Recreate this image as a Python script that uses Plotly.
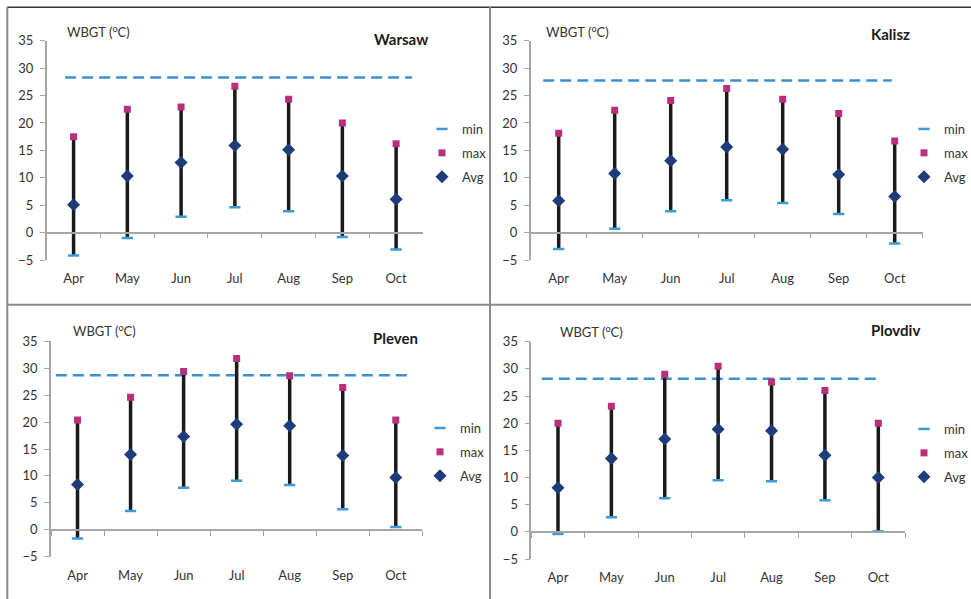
import plotly.graph_objects as go

months = ["Apr", "May", "Jun", "Jul", "Aug", "Sep", "Oct"]
cities = ["Warsaw", "Kalisz", "Pleven", "Plovdiv"]

warsaw_min = [-4.2, -1.0, 2.9, 4.6, 3.9, -0.8, -3.1]
warsaw_max = [17.5, 22.5, 22.9, 26.7, 24.3, 20.0, 16.2]
warsaw_avg = [5.1, 10.3, 12.8, 15.9, 15.1, 10.3, 6.1]

kalisz_min = [-3.0, 0.7, 3.9, 5.9, 5.4, 3.4, -2.0]
kalisz_max = [18.1, 22.3, 24.1, 26.3, 24.3, 21.7, 16.7]
kalisz_avg = [5.8, 10.8, 13.1, 15.6, 15.2, 10.6, 6.6]

pleven_min = [-1.6, 3.5, 7.8, 9.1, 8.3, 3.8, 0.5]
pleven_max = [20.4, 24.6, 29.4, 31.8, 28.6, 26.4, 20.4]
pleven_avg = [8.4, 14.0, 17.3, 19.6, 19.3, 13.8, 9.7]

plovdiv_min = [-0.4, 2.7, 6.2, 9.5, 9.3, 5.8, 0.1]
plovdiv_max = [20.0, 23.1, 29.0, 30.5, 27.6, 26.0, 20.0]
plovdiv_avg = [8.1, 13.5, 17.1, 18.9, 18.6, 14.1, 10.0]

thresholds = [28.3, 27.75, 28.7, 28.2]
y_ticks = [-5, 0, 5, 10, 15, 20, 25, 30, 35]
y_label = "WBGT (<sup>o</sup>C)"

mins = [warsaw_min, kalisz_min, pleven_min, plovdiv_min]
maxs = [warsaw_max, kalisz_max, pleven_max, plovdiv_max]
avgs = [warsaw_avg, kalisz_avg, pleven_avg, plovdiv_avg]

W, H = 971, 599
FONT = "Lato, 'Open Sans', sans-serif"


def fx(p):
    return p / W


def fy(p):
    return 1 - p / H


# panel geometry in pixels: (x_left, x_right, y_top(35), y_bottom(-5))
panels = [
    (46.7, 423.0, 40.7, 260.0),
    (530.7, 922.7, 40.7, 260.0),
    (51.0, 422.3, 341.3, 556.7),
    (531.3, 905.0, 341.7, 559.0),
]
legend_pos = [(422, 114), (904, 114), (420, 413), (904, 414)]
title_pos = [(430, 39), (912, 34), (420, 338), (922, 330)]
label_pos = [(65, 31.5), (544, 31), (71, 330), (558, 331)]
dash_span = [(0.049, 0.971), (0.032, 0.921), (0.013, 0.971), (0.028, 0.928)]

C_MIN = "#3C9AD8"
C_MAX = "#B8307A"
C_AVG = "#1F3C7A"
C_RANGE = "#1A1A1A"

fig = go.Figure()
layout = dict(
    width=W, height=H,
    margin=dict(l=0, r=0, t=0, b=0, autoexpand=False),
    paper_bgcolor="white", plot_bgcolor="white",
    font=dict(family=FONT, size=13, color="#333333"),
    showlegend=True,
)
shapes = []
annotations = []

for i in range(4):
    sfx = "" if i == 0 else str(i + 1)
    xa, ya = "x" + sfx, "y" + sfx
    lg = "legend" + sfx
    xl, xr, yt, yb = panels[i]
    y0f, y1f = fy(yb), fy(yt)
    zero_pos = y0f + (0 - (-5)) / 40 * (y1f - y0f)

    lx, ly = [], []
    for m, lo, hi in zip(months, mins[i], maxs[i]):
        lx += [m, m, None]
        ly += [lo, hi, None]
    fig.add_trace(go.Scatter(x=lx, y=ly, mode="lines", xaxis=xa, yaxis=ya,
                             line=dict(color=C_RANGE, width=3.5),
                             showlegend=False, hoverinfo="skip"))
    fig.add_trace(go.Scatter(x=months, y=mins[i], mode="markers", name="min",
                             xaxis=xa, yaxis=ya, legend=lg, legendgroup=f"min{i}",
                             marker=dict(symbol="line-ew", size=8,
                                         line=dict(color=C_MIN, width=2.5))))
    fig.add_trace(go.Scatter(x=months, y=maxs[i], mode="markers", name="max",
                             xaxis=xa, yaxis=ya, legend=lg, legendgroup=f"max{i}",
                             marker=dict(symbol="square", size=7, color=C_MAX)))
    fig.add_trace(go.Scatter(x=months, y=avgs[i], mode="markers", name="Avg",
                             xaxis=xa, yaxis=ya, legend=lg, legendgroup=f"avg{i}",
                             marker=dict(symbol="diamond", size=10, color=C_AVG)))

    layout["xaxis" + sfx] = dict(
        domain=[fx(xl), fx(xr)], anchor="free", position=zero_pos,
        type="category", categoryorder="array", categoryarray=months,
        range=[-0.5, 6.5], showline=True, linecolor="#A6A6A6", linewidth=1.5,
        ticks="outside", ticklen=5, tickcolor="#A6A6A6", tickson="boundaries",
        ticklabelstandoff=34, showgrid=False, zeroline=False,
        tickfont=dict(family=FONT, size=13, color="#333333"),
    )
    layout["yaxis" + sfx] = dict(
        domain=[y0f, y1f], anchor=xa, range=[-5, 35], tickvals=y_ticks,
        showline=True, linecolor="#A6A6A6", linewidth=1.5,
        ticks="outside", ticklen=5, tickcolor="#A6A6A6",
        showgrid=False, zeroline=False, ticklabelstandoff=4,
        tickfont=dict(family=FONT, size=13, color="#333333"),
    )
    layout[lg] = dict(
        x=fx(legend_pos[i][0]), y=fy(legend_pos[i][1]), xanchor="left", yanchor="top",
        bgcolor="rgba(0,0,0,0)", font=dict(family=FONT, size=13, color="#333333"),
        tracegroupgap=4, itemsizing="trace",
    )
    d0, d1 = dash_span[i]
    shapes.append(dict(type="line", xref=xa + " domain", yref=ya,
                       x0=d0, x1=d1, y0=thresholds[i], y1=thresholds[i],
                       line=dict(color="#3C8FD2", width=2.5, dash="11px,6px"),
                       layer="below"))
    annotations.append(dict(text="<b>" + cities[i] + "</b>", xref="paper", yref="paper",
                            x=fx(title_pos[i][0]), y=fy(title_pos[i][1]),
                            xanchor="right", yanchor="middle", showarrow=False,
                            font=dict(family=FONT, size=15, color="#1A1A1A")))
    annotations.append(dict(text=y_label, xref="paper", yref="paper",
                            x=fx(label_pos[i][0]), y=fy(label_pos[i][1]),
                            xanchor="left", yanchor="middle", showarrow=False,
                            font=dict(family=FONT, size=13, color="#333333")))

# panel frame lines
shapes += [
    dict(type="line", xref="paper", yref="paper", x0=fx(7), x1=fx(971), y0=fy(7.3), y1=fy(7.3),
         line=dict(color="#333333", width=1.5)),
    dict(type="line", xref="paper", yref="paper", x0=fx(7.3), x1=fx(7.3), y0=fy(7), y1=fy(599),
         line=dict(color="#8C8C8C", width=2)),
    dict(type="line", xref="paper", yref="paper", x0=fx(490), x1=fx(490), y0=fy(7), y1=fy(599),
         line=dict(color="#8C8C8C", width=2)),
    dict(type="line", xref="paper", yref="paper", x0=fx(7), x1=fx(971), y0=fy(304.7), y1=fy(304.7),
         line=dict(color="#8C8C8C", width=2)),
]
layout["shapes"] = shapes
layout["annotations"] = annotations
fig.update_layout(**layout)

fig.write_html(
    "out.html",
    post_script="document.body.style.margin='0';document.body.style.overflow='hidden';",
    config={"displayModeBar": False},
)
